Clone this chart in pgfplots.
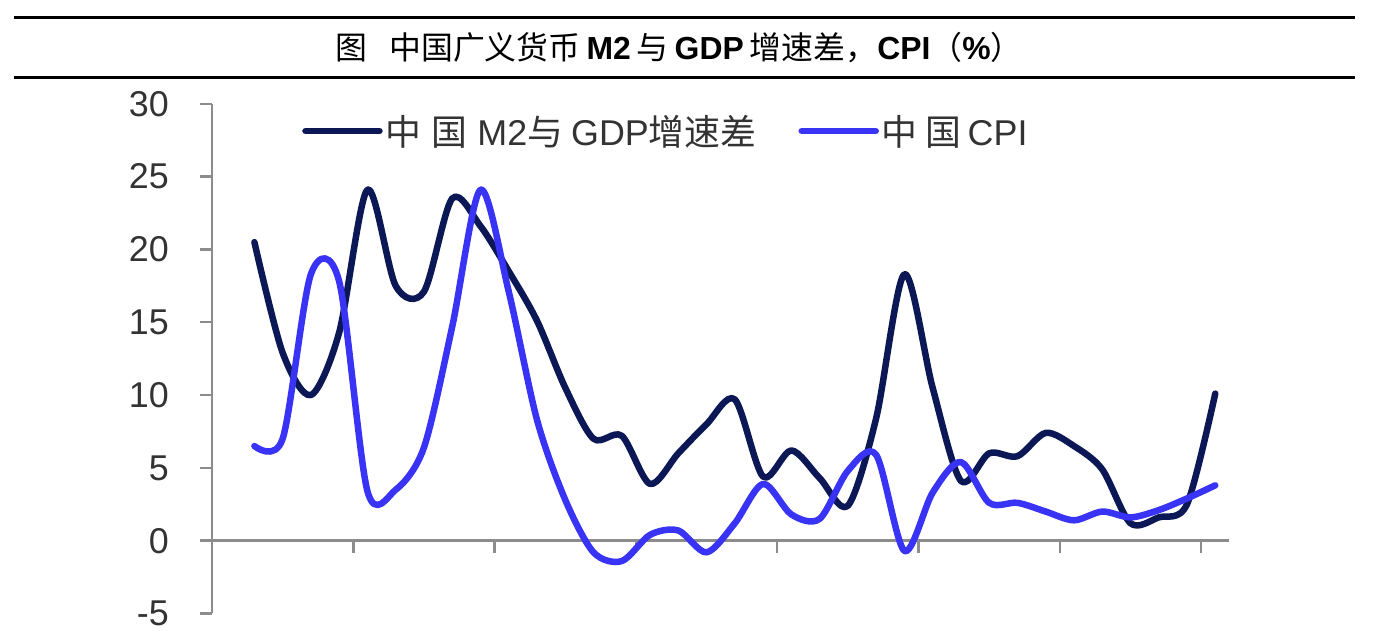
\documentclass[border=0pt]{standalone}
\usepackage{fontspec}
\setmainfont{Liberation Sans}
\newfontfamily\cjk{Noto Sans CJK SC}
\usepackage{pgfplots}
\pgfplotsset{compat=1.18}
\usepackage{pgfplotstable}
\definecolor{mtwo}{HTML}{0B1855}
\definecolor{cpi}{HTML}{3833F5}
\definecolor{axgray}{HTML}{8C8C8C}
\definecolor{lab}{HTML}{333333}

\pgfplotstableread{
k year dark cpi
0 1986 20.5 6.5
1 1987 12.9 7.0
2 1988 10.0 18.3
3 1989 14.3 17.8
4 1990 24.1 3.4
5 1991 17.5 3.5
6 1992 17.1 6.4
7 1993 23.5 14.7
8 1994 21.6 24.1
9 1995 18.5 17.1
10 1996 15.1 8.3
11 1997 10.5 2.8
12 1998 7.0 -0.8
13 1999 7.2 -1.4
14 2000 3.9 0.4
15 2001 6.0 0.7
16 2002 8.0 -0.8
17 2003 9.7 1.2
18 2004 4.4 3.9
19 2005 6.2 1.8
20 2006 4.3 1.5
21 2007 2.4 4.8
22 2008 8.4 5.9
23 2009 18.3 -0.7
24 2010 10.5 3.3
25 2011 4.1 5.4
26 2012 6.0 2.6
27 2013 5.8 2.6
28 2014 7.4 2.0
29 2015 6.5 1.4
30 2016 4.9 2.0
31 2017 1.2 1.6
32 2018 1.6 2.1
33 2019 2.5 2.9
34 2020 10.1 3.8
}\data

\begin{document}
\begin{tikzpicture}[x=1bp,y=1bp]
\useasboundingbox (0,0) rectangle (1384,632);
\draw[line width=3bp] (14,614) -- (1355,614);
\draw[line width=3bp] (14,554) -- (1355,554);
\node[inner sep=0pt] at (679,584.5) {\fontsize{32}{32}\selectfont{\cjk 图}\hspace{22bp}{\cjk 中国广义货币}\hspace{6bp}\textbf{M2}\hspace{6bp}{\cjk 与}\hspace{6bp}\textbf{GDP}\hspace{6bp}{\cjk 增速差，}\textbf{CPI}{\cjk （}\textbf{\%}{\cjk ）}};
\begin{axis}[
  at={(212bp,18.5bp)}, anchor=south west,
  scale only axis, width=1017.4bp, height=509.7bp,
  xmin=-1.5, xmax=34.5, ymin=-5, ymax=30,
  axis x line=middle, axis y line=left,
  axis line style={axgray, line width=2.5bp, -},
  every inner x axis line/.append style={-},
  every outer y axis line/.append style={-},
  xtick={3.5,8.5,...,33.5}, xticklabels={},
  ytick={-5,0,...,30},
  tick align=outside, major tick length=12bp,
  tick style={axgray, line width=2.5bp},
  /pgf/number format/assume math mode=true,
  yticklabel style={font=\fontsize{36}{36}\selectfont, text=lab, inner sep=0pt, anchor=east, xshift=-31bp},
  legend columns=2,
  legend cell align=left,
  legend style={at={(axis description cs:0.0885,0.9466)}, anchor=west, draw=none, fill=none, inner sep=0pt,
    font=\fontsize{36}{36}\selectfont, text=lab,
    nodes={inner sep=3bp},
    /tikz/every even column/.append style={column sep=39bp}},
  legend image code/.code={\draw[#1, line cap=round] (0bp,0bp) -- (74bp,0bp);},
]
\addplot[mtwo, line width=6.5bp, smooth, line join=round, line cap=round] table[x=k, y=dark] {\data};
\addlegendentry{{\cjk 中\hspace{10bp}国}\hspace{10bp}M2{\cjk 与}\hspace{8bp}GDP{\cjk 增速差}}
\addplot[cpi, line width=6.5bp, smooth, line join=round, line cap=round] table[x=k, y=cpi] {\data};
\addlegendentry{{\cjk 中\hspace{8bp}国}\hspace{6bp}CPI}
\end{axis}
\end{tikzpicture}
\end{document}
